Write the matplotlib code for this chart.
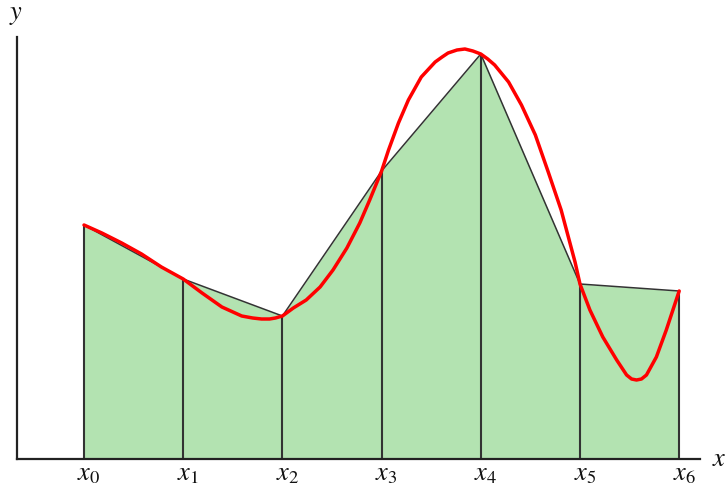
import matplotlib
matplotlib.use("Agg")
import matplotlib.pyplot as plt

# Trapezoid nodes
node_x = [0, 1, 2, 3, 4, 5, 6]
node_y = [2.34, 1.80, 1.43, 2.88, 4.05, 1.75, 1.68]
node_labels = ["$x_0$", "$x_1$", "$x_2$", "$x_3$", "$x_4$", "$x_5$", "$x_6$"]

# Red curve, points
curve_x = [0.00, 0.18, 0.38, 0.58, 0.78, 1.00, 1.19, 1.39, 1.59, 1.70, 1.79, 1.87, 1.93, 2.00,
           2.11, 2.24, 2.38, 2.51, 2.65, 2.78, 2.88, 3.00, 3.07, 3.17, 3.27, 3.40,
           3.54, 3.61, 3.67, 3.76, 3.84, 3.92, 4.00, 4.07, 4.14, 4.28, 4.41, 4.55, 4.68, 4.81,
           4.95, 5.00, 5.10, 5.23, 5.37, 5.47, 5.52, 5.57, 5.62, 5.67, 5.77, 5.87, 5.96, 6.00]
curve_y = [2.34, 2.26, 2.16, 2.05, 1.92, 1.80, 1.66, 1.52, 1.43, 1.41, 1.40, 1.40, 1.41, 1.43,
           1.51, 1.59, 1.72, 1.89, 2.11, 2.36, 2.59, 2.88, 3.09, 3.36, 3.59, 3.82,
           3.97, 4.02, 4.06, 4.09, 4.10, 4.08, 4.05, 4.00, 3.94, 3.77, 3.54, 3.24, 2.87, 2.49,
           1.97, 1.75, 1.49, 1.22, 0.99, 0.84, 0.80, 0.79, 0.80, 0.84, 1.02, 1.29, 1.56, 1.68]

W, H = 726, 493
fig = plt.figure(figsize=(W / 100, H / 100), dpi=100)
ax = fig.add_axes([0, 0, 1, 1])
ax.set_xlim(-0.847, 6.472)
ax.set_ylim(-0.34, 4.59)
ax.axis("off")

green = "#b3e3b1"
edge = "#333333"

# filled trapezoids
ax.fill_between(node_x, 0, node_y, color=green, linewidth=0, zorder=1)
ax.plot(node_x, node_y, color=edge, lw=1.1, zorder=2)
ax.vlines(node_x, 0, node_y, color=edge, lw=1.5, zorder=2)

# curve
ax.plot(curve_x, curve_y, color="#ff0000", lw=2.5, zorder=3,
        solid_capstyle="round", solid_joinstyle="round")

# axes
ax.plot([-0.675, 6.21], [0, 0], color="#222222", lw=1.6, zorder=4)
ax.plot([-0.675, -0.675], [0, 4.22], color="#222222", lw=1.6, zorder=4)

plt.rcParams["mathtext.fontset"] = "stix"
for xv, lab in zip(node_x, node_labels):
    ax.text(xv + 0.05, -0.14, lab, ha="center", va="center", fontsize=19, color="#111111")
ax.text(6.40, 0.0, "$x$", ha="center", va="center", fontsize=19, color="#111111")
ax.text(-0.69, 4.45, "$y$", ha="center", va="center", fontsize=19, color="#111111")

fig.savefig("out.png", dpi=100)
